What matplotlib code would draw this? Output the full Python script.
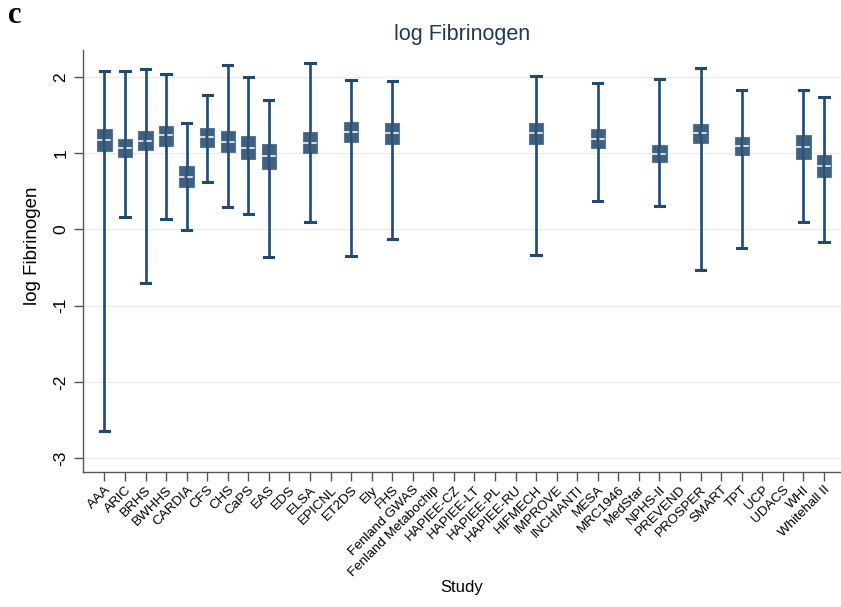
import numpy as np
import matplotlib
matplotlib.use("Agg")
import matplotlib.pyplot as plt

studies = ["AAA", "ARIC", "BRHS", "BWHHS", "CARDIA", "CFS", "CHS", "CaPS", "EAS",
           "EDS", "ELSA", "EPICNL", "ET2DS", "Ely", "FHS", "Fenland GWAS",
           "Fenland Metabochip", "HAPIEE-CZ", "HAPIEE-LT", "HAPIEE-PL", "HAPIEE-RU",
           "HIFMECH", "IMPROVE", "INCHIANTI", "MESA", "MRC1946", "MedStar", "NPHS-II",
           "PREVEND", "PROSPER", "SMART", "TPT", "UCP", "UDACS", "WHI", "Whitehall II"]

nan = np.nan
# lower adjacent value, 25th pct, median, 75th pct, upper adjacent value
whisker_low = [-2.64, 0.16, -0.70, 0.13, -0.01, 0.62, 0.29, 0.20, -0.36,
               nan, 0.10, nan, -0.35, nan, -0.13, nan,
               nan, nan, nan, nan, nan,
               -0.34, nan, nan, 0.37, nan, nan, 0.30,
               nan, -0.53, nan, -0.25, nan, nan, 0.10, -0.17]
q1 = [1.03, 0.95, 1.04, 1.09, 0.55, 1.08, 1.02, 0.92, 0.79,
      nan, 1.00, nan, 1.15, nan, 1.12, nan,
      nan, nan, nan, nan, nan,
      1.12, nan, nan, 1.07, nan, nan, 0.88,
      nan, 1.13, nan, 0.97, nan, nan, 0.92, 0.69]
median = [1.17, 1.06, 1.16, 1.23, 0.69, 1.21, 1.14, 1.06, 0.96,
          nan, 1.13, nan, 1.28, nan, 1.26, nan,
          nan, nan, nan, nan, nan,
          1.26, nan, nan, 1.19, nan, nan, 0.99,
          nan, 1.26, nan, 1.09, nan, nan, 1.08, 0.83]
q3 = [1.32, 1.19, 1.29, 1.35, 0.83, 1.33, 1.29, 1.22, 1.12,
      nan, 1.28, nan, 1.41, nan, 1.40, nan,
      nan, nan, nan, nan, nan,
      1.40, nan, nan, 1.32, nan, nan, 1.11,
      nan, 1.38, nan, 1.21, nan, nan, 1.24, 0.98]
whisker_high = [2.07, 2.08, 2.10, 2.03, 1.39, 1.76, 2.16, 2.00, 1.70,
                nan, 2.18, nan, 1.96, nan, 1.94, nan,
                nan, nan, nan, nan, nan,
                2.01, nan, nan, 1.92, nan, nan, 1.97,
                nan, 2.11, nan, 1.82, nan, nan, 1.83, 1.74]

navy = "#1f4a73"
box_fill = "#40607f"
grid_col = "#e6eef1"

plt.rcParams["font.family"] = ["Liberation Sans", "DejaVu Sans"]

fig = plt.figure(figsize=(8.41, 6.07), dpi=100)
ax = fig.add_axes([0.0987, 0.2224, 0.9013, 0.6952])

positions = np.arange(len(studies))
stats, pos = [], []
for i in positions:
    if np.isnan(median[i]):
        continue
    stats.append(dict(med=median[i], q1=q1[i], q3=q3[i],
                      whislo=whisker_low[i], whishi=whisker_high[i], fliers=[]))
    pos.append(i)

ax.bxp(stats, positions=pos, widths=0.7, capwidths=0.45, patch_artist=True,
       showfliers=False, manage_ticks=False,
       boxprops=dict(facecolor=box_fill, edgecolor="#5a7896", linewidth=0.8, zorder=3),
       whiskerprops=dict(color=navy, linewidth=1.9, zorder=4),
       capprops=dict(color=navy, linewidth=2.2, zorder=4),
       medianprops=dict(color="white", linewidth=1.1, linestyle=(0, (3.5, 2)), zorder=6))
# whisker line runs through the box as well
ax.vlines(pos, [q1[i] for i in pos], [q3[i] for i in pos], color="#2a5078",
          linewidth=1.5, zorder=5)

ax.set_xlim(-1.04, 35.83)
ax.set_ylim(-3.18, 2.35)
ax.set_xticks(positions)
ax.set_xticklabels(studies, rotation=45, ha="right", rotation_mode="anchor",
                   fontsize=9.7)
ax.set_yticks([-3, -2, -1, 0, 1, 2])
ax.set_yticklabels(["-3", "-2", "-1", "0", "1", "2"], rotation=90, va="center",
                   fontsize=12.5)
ax.yaxis.grid(True, color=grid_col, linewidth=1.0, zorder=0)
ax.set_axisbelow(True)

for side in ("top", "right"):
    ax.spines[side].set_visible(False)
for side in ("left", "bottom"):
    ax.spines[side].set_color("#555555")
    ax.spines[side].set_linewidth(1.0)
ax.tick_params(axis="both", colors="#555555", length=6.5, width=1.0, labelcolor="black")
ax.tick_params(axis="x", pad=2)
ax.tick_params(axis="y", pad=4)

ax.set_ylabel("log Fibrinogen", fontsize=13.5)
ax.yaxis.set_label_coords(-0.056, 0.535)
ax.set_xlabel("Study", fontsize=12, labelpad=1)
ax.set_title("log Fibrinogen", fontsize=15.5, color="#1e3858", pad=7)

fig.text(0.010, 0.998, "c", fontsize=22, fontweight="bold", va="top",
         family=["Liberation Serif", "DejaVu Serif"])

fig.savefig("out.png", dpi=100)
